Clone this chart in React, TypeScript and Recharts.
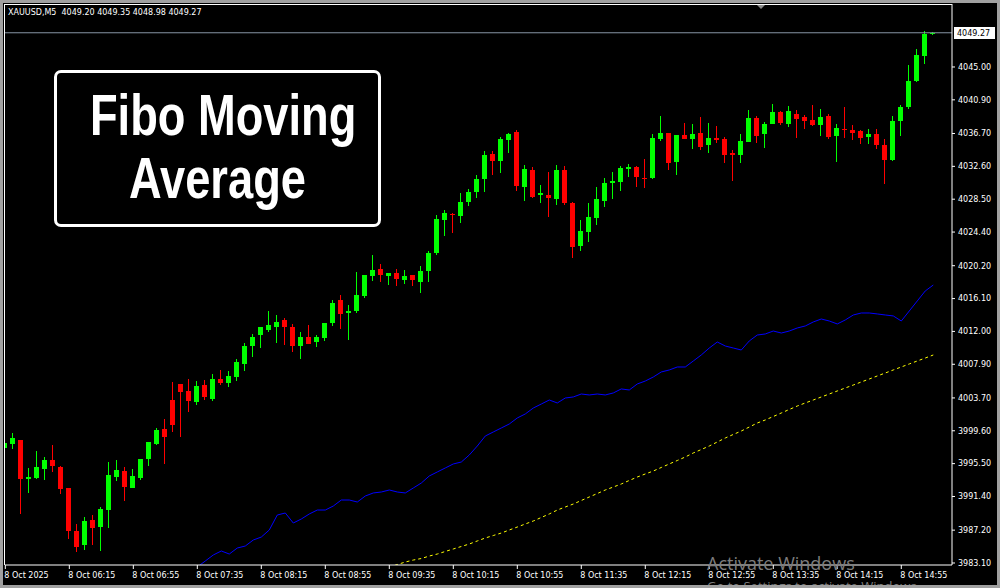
import React from 'react';
import { ComposedChart, Bar, Line, XAxis, YAxis, ReferenceLine } from 'recharts';

const opens = [
  3997.49, 3997.99, 3998.45, 3993.62, 3993.75, 3994.87, 3995.95, 3995.08, 3992.46, 3987.09,
  3985.35, 3988.47, 3987.59, 3989.71, 3993.83, 3994.58, 3992.46, 3993.71, 3996.08, 3997.95,
  3999.82, 4003.44, 4005.44, 4004.57, 4003.19, 4005.31, 4003.57, 4006.06, 4005.56, 4006.31,
  4007.94, 4010.18, 4011.55, 4012.18, 4012.55, 4013.43, 4012.55, 4010.18, 4011.30, 4010.68,
  4011.18, 4013.05, 4015.92, 4014.30, 4014.55, 4016.42, 4018.92, 4019.79, 4018.92, 4019.29,
  4018.42, 4019.04, 4018.17, 4019.54, 4021.79, 4025.91, 4026.66, 4026.41, 4028.15, 4029.40,
  4031.02, 4034.14, 4033.27, 4035.89, 4036.89, 4030.02, 4032.15, 4029.03, 4029.03, 4028.53,
  4032.15, 4028.03, 4022.66, 4024.41, 4026.16, 4028.28, 4030.52, 4030.65, 4032.27, 4032.52,
  4031.15, 4031.15, 4036.02, 4036.76, 4033.14, 4036.51, 4036.02, 4036.76, 4035.27, 4036.14,
  4036.02, 4034.27, 4034.02, 4035.64, 4038.64, 4036.64, 4037.89, 4039.38, 4037.89, 4039.14,
  4038.76, 4038.39, 4037.76, 4038.89, 4036.39, 4037.26, 4037.14, 4037.01, 4036.26, 4036.64,
  4035.27, 4033.39, 4038.26, 4040.01, 4043.25, 4046.37, 4049.20,
];
const highs = [
  3998.45, 3999.32, 3998.50, 3994.96, 3997.08, 3996.33, 3997.83, 3995.20, 3992.50, 3987.97,
  3988.84, 3989.09, 3990.09, 3995.70, 3995.95, 3995.08, 3994.83, 3996.10, 3998.25, 3999.95,
  4001.07, 4005.69, 4005.50, 4006.06, 4005.81, 4005.94, 4006.69, 4007.19, 4007.06, 4008.56,
  4010.56, 4011.68, 4012.60, 4014.55, 4014.05, 4013.68, 4012.93, 4011.93, 4012.80, 4011.55,
  4013.10, 4015.92, 4016.55, 4015.30, 4019.42, 4019.10, 4021.54, 4020.42, 4019.35, 4019.79,
  4019.67, 4019.10, 4020.17, 4022.04, 4026.53, 4027.15, 4026.78, 4029.28, 4029.78, 4031.52,
  4034.52, 4034.52, 4036.26, 4036.76, 4037.14, 4032.77, 4032.52, 4030.27, 4031.90, 4032.77,
  4032.65, 4028.10, 4025.91, 4028.03, 4030.02, 4031.15, 4031.90, 4032.65, 4032.90, 4032.65,
  4033.52, 4036.64, 4038.89, 4036.80, 4036.55, 4038.01, 4037.89, 4038.76, 4038.01, 4037.64,
  4036.26, 4034.64, 4036.64, 4039.63, 4038.89, 4038.14, 4040.38, 4039.51, 4040.13, 4039.63,
  4039.01, 4040.26, 4039.76, 4039.14, 4037.89, 4040.01, 4037.76, 4037.14, 4037.26, 4037.26,
  4036.02, 4038.89, 4040.26, 4045.25, 4047.25, 4049.49, 4049.35,
];
const lows = [
  3996.12, 3997.36, 3989.25, 3991.87, 3993.58, 3993.50, 3994.49, 3991.75, 3986.10, 3984.51,
  3984.72, 3985.38, 3984.64, 3987.47, 3993.33, 3990.84, 3992.40, 3993.46, 3995.21, 3997.83,
  3995.46, 3999.45, 3998.82, 4001.94, 4002.82, 4003.44, 4003.32, 4005.31, 4005.06, 4005.81,
  4007.06, 4008.81, 4009.93, 4011.93, 4010.56, 4010.31, 4009.43, 4008.56, 4010.40, 4010.06,
  4010.81, 4012.68, 4012.30, 4010.93, 4014.30, 4016.17, 4018.29, 4018.17, 4017.79, 4017.67,
  4017.92, 4017.67, 4016.80, 4018.17, 4021.54, 4023.91, 4024.28, 4025.53, 4027.65, 4028.65,
  4029.40, 4031.52, 4031.77, 4034.27, 4029.53, 4028.28, 4028.65, 4028.03, 4026.28, 4027.78,
  4027.78, 4021.16, 4022.04, 4023.16, 4025.28, 4027.53, 4028.53, 4029.53, 4031.27, 4030.02,
  4029.90, 4031.02, 4035.77, 4032.15, 4031.52, 4036.00, 4034.77, 4034.64, 4034.27, 4035.52,
  4033.02, 4030.77, 4033.02, 4035.60, 4035.52, 4034.89, 4037.85, 4037.76, 4037.51, 4036.14,
  4037.26, 4037.64, 4036.39, 4036.02, 4033.14, 4036.14, 4035.89, 4035.39, 4035.39, 4034.77,
  4030.40, 4033.27, 4036.39, 4039.76, 4043.13, 4045.38, 4048.98,
];
const closes = [
  3998.08, 3998.70, 3993.62, 3993.83, 3995.08, 3995.95, 3995.24, 3992.34, 3987.09, 3985.10,
  3988.34, 3987.47, 3989.84, 3994.08, 3994.71, 3992.58, 3993.96, 3996.08, 3998.20, 3999.70,
  3998.82, 4000.32, 4004.44, 4003.32, 4005.19, 4003.82, 4006.06, 4005.56, 4006.44, 4008.18,
  4010.18, 4011.30, 4012.55, 4012.80, 4013.18, 4012.55, 4010.18, 4011.30, 4010.43, 4011.30,
  4013.05, 4015.55, 4014.18, 4014.55, 4016.55, 4019.04, 4019.67, 4019.04, 4019.29, 4018.54,
  4018.92, 4018.42, 4019.54, 4021.79, 4026.03, 4026.78, 4026.53, 4028.15, 4029.40, 4031.02,
  4034.02, 4033.27, 4036.02, 4036.64, 4030.15, 4032.27, 4028.78, 4029.28, 4028.65, 4032.15,
  4028.03, 4022.54, 4024.53, 4026.28, 4028.53, 4030.52, 4030.77, 4032.40, 4032.52, 4031.27,
  4031.02, 4036.14, 4036.76, 4033.02, 4036.51, 4036.02, 4036.64, 4035.02, 4036.14, 4035.89,
  4034.02, 4034.02, 4035.77, 4038.64, 4036.39, 4037.89, 4039.38, 4038.01, 4039.51, 4038.51,
  4038.26, 4037.76, 4038.76, 4036.26, 4037.39, 4037.14, 4036.76, 4036.14, 4036.64, 4035.27,
  4033.39, 4038.26, 4040.01, 4043.25, 4046.50, 4049.12, 4049.27,
];

const blueMA = [
  null, null, null, null, null, null, null, null, null, null,
  null, null, null, null, null, null, null, null, null, null,
  null, null, null, null, 3982.60, 3983.35, 3984.10, 3984.60, 3984.22, 3984.97,
  3985.22, 3985.97, 3986.34, 3987.22, 3989.09, 3989.34, 3988.09, 3988.59, 3989.22, 3989.71,
  3989.71, 3990.21, 3990.96, 3990.96, 3990.71, 3991.46, 3991.84, 3991.96, 3992.21, 3991.96,
  3991.84, 3992.46, 3993.08, 3993.96, 3994.46, 3994.96, 3995.46, 3995.70, 3996.58, 3997.70,
  3998.95, 3999.45, 3999.95, 4000.45, 4001.20, 4001.70, 4002.44, 4002.94, 4003.44, 4003.07,
  4003.69, 4003.82, 4004.19, 4004.07, 4004.19, 4004.07, 4004.32, 4004.82, 4004.69, 4005.44,
  4005.81, 4006.31, 4006.94, 4007.19, 4007.56, 4007.56, 4008.31, 4009.06, 4009.93, 4010.68,
  4010.18, 4009.93, 4009.68, 4010.81, 4011.55, 4011.68, 4012.05, 4011.80, 4012.05, 4012.43,
  4012.68, 4013.18, 4013.55, 4013.30, 4012.93, 4013.43, 4014.05, 4014.30, 4014.30, 4014.18,
  4014.05, 4013.93, 4013.30, 4014.55, 4015.80, 4017.05, 4017.79,
];

const yellowMA = [
  null, null, null, null, null, null, null, null, null, null,
  null, null, null, null, null, null, null, null, null, null,
  null, null, null, null, null, null, null, null, null, null,
  null, null, null, null, null, null, null, null, null, null,
  null, null, null, null, null, null, null, null, 3982.60, 3982.91,
  3983.22, 3983.47, 3983.66, 3983.97, 3984.22, 3984.54, 3984.85, 3985.16, 3985.47, 3985.85,
  3986.22, 3986.53, 3986.84, 3987.22, 3987.59, 3987.97, 3988.34, 3988.78, 3989.22, 3989.71,
  3990.09, 3990.46, 3990.90, 3991.34, 3991.77, 3992.21, 3992.58, 3992.96, 3993.40, 3993.83,
  3994.21, 3994.58, 3995.02, 3995.46, 3995.89, 3996.33, 3996.83, 3997.26, 3997.70, 3998.20,
  3998.70, 3999.14, 3999.57, 4000.07, 4000.57, 4000.95, 4001.38, 4001.82, 4002.26, 4002.69,
  4003.07, 4003.44, 4003.82, 4004.19, 4004.57, 4004.94, 4005.31, 4005.69, 4006.06, 4006.44,
  4006.81, 4007.19, 4007.56, 4007.94, 4008.31, 4008.68, 4009.06,
];

const timeTicks = [0, 8, 16, 24, 32, 40, 48, 56, 64, 72, 80, 88, 96, 104, 112];
const timeLabels = [
  '8 Oct 2025', '8 Oct 06:15', '8 Oct 06:55', '8 Oct 07:35', '8 Oct 08:15',
  '8 Oct 08:55', '8 Oct 09:35', '8 Oct 10:15', '8 Oct 10:55', '8 Oct 11:35',
  '8 Oct 12:15', '8 Oct 12:55', '8 Oct 13:35', '8 Oct 14:15', '8 Oct 14:55',
];
const priceTicks = [
  4045.0, 4040.9, 4036.7, 4032.6, 4028.5, 4024.4, 4020.2, 4016.1,
  4012.0, 4007.9, 4003.7, 3999.6, 3995.5, 3991.4, 3987.2, 3983.1,
];
const lastPrice = 4049.27;
const headerText = 'XAUUSD,M5  4049.20 4049.35 4048.98 4049.27';
const titleLines = ['Fibo Moving', 'Average'];

const data = opens.map((o, i) => ({
  i,
  open: o,
  high: highs[i],
  low: lows[i],
  close: closes[i],
  range: [lows[i], highs[i]],
  blue: blueMA[i],
  yellow: yellowMA[i],
}));

const AXIS_FONT = "'DejaVu Sans', sans-serif";

function Candle(props: any) {
  const { x, y, width, height, payload } = props;
  if (!payload || x == null || y == null) return null;
  const { open, close, high, low } = payload;
  const top = Math.min(y, y + height);
  const h = Math.abs(height);
  const span = high - low;
  const pix = (v: number) => (span > 0 ? top + ((high - v) / span) * h : top);
  const cx = x + width / 2;
  const color = close >= open ? '#00ff00' : '#ff0000';
  const wTop = Math.round(pix(high));
  const wBot = Math.round(pix(low));
  const bTop = Math.round(pix(Math.max(open, close)));
  const bBot = Math.round(pix(Math.min(open, close)));
  return (
    <g>
      <rect x={Math.floor(cx)} y={wTop} width={1} height={Math.max(1, wBot - wTop)} fill={color} />
      <rect x={Math.round(cx - 2.5)} y={bTop} width={5} height={Math.max(1, bBot - bTop)} fill={color} />
    </g>
  );
}

function XTick(props: any) {
  const { x, y, payload } = props;
  const idx = timeTicks.indexOf(payload.value);
  return (
    <text x={x - 1} y={y + 7} fill="#ffffff" fontSize={8} fontFamily={AXIS_FONT} textAnchor="start">
      {idx >= 0 ? timeLabels[idx] : ''}
    </text>
  );
}

function PriceLabel(props: any) {
  const { viewBox } = props;
  if (!viewBox) return null;
  const right = viewBox.x + viewBox.width;
  const yy = Math.round(viewBox.y);
  return (
    <g>
      <rect x={right + 2} y={yy - 6} width={41} height={12} fill="#ffffff" />
      <text x={right + 5} y={yy + 3} fill="#000000" fontSize={8} fontFamily={AXIS_FONT}>
        {lastPrice.toFixed(2)}
      </text>
    </g>
  );
}

export default function App() {
  return (
    <div
      style={{
        position: 'absolute',
        left: 0,
        top: 0,
        width: 1000,
        height: 588,
        background: '#000000',
        overflow: 'hidden',
      }}
    >
      <div style={{ position: 'absolute', left: 0, top: 0 }}>
        <ComposedChart width={1000} height={588} data={data} margin={{ top: 4, right: 0, left: 5, bottom: 0 }}>
          <XAxis
            dataKey="i"
            type="number"
            domain={[-0.04, 118.34]}
            allowDataOverflow
            ticks={timeTicks}
            interval={0}
            height={23}
            tickSize={4}
            tickMargin={2}
            axisLine={{ stroke: '#ffffff' }}
            tickLine={{ stroke: '#ffffff' }}
            tick={<XTick />}
          />
          <YAxis
            orientation="right"
            width={48}
            domain={[3982.85, 4052.86]}
            allowDataOverflow
            ticks={priceTicks}
            interval={0}
            tickSize={3}
            tickMargin={3}
            axisLine={{ stroke: '#ffffff' }}
            tickLine={{ stroke: '#ffffff' }}
            tick={{ fill: '#ffffff', fontSize: 8, fontFamily: AXIS_FONT }}
            tickFormatter={(v: number) => v.toFixed(2)}
          />
          <ReferenceLine y={lastPrice} stroke="#8795a5" strokeWidth={1} label={<PriceLabel />} />
          <Bar dataKey="range" shape={<Candle />} barSize={5} isAnimationActive={false} />
          <Line
            dataKey="blue"
            type="linear"
            stroke="#0000ff"
            strokeWidth={1}
            dot={false}
            activeDot={false}
            connectNulls={false}
            isAnimationActive={false}
          />
          <Line
            dataKey="yellow"
            type="linear"
            stroke="#ffff00"
            strokeWidth={1}
            strokeDasharray="3 3"
            dot={false}
            activeDot={false}
            connectNulls={false}
            isAnimationActive={false}
          />
        </ComposedChart>
      </div>

      {/* plot frame: left and top edges */}
      <div
        style={{
          position: 'absolute',
          left: 4,
          top: 4,
          width: 948,
          height: 561,
          borderLeft: '1px solid #ffffff',
          borderTop: '1px solid #ffffff',
          boxSizing: 'border-box',
          pointerEvents: 'none',
        }}
      />

      {/* header */}
      <div
        style={{
          position: 'absolute',
          left: 8,
          top: 8,
          color: '#ffffff',
          fontFamily: AXIS_FONT,
          fontSize: 8,
          lineHeight: '10px',
          whiteSpace: 'pre',
        }}
      >
        {headerText}
      </div>

      {/* shift marker */}
      <div
        style={{
          position: 'absolute',
          left: 757,
          top: 5,
          width: 0,
          height: 0,
          borderLeft: '4.5px solid transparent',
          borderRight: '4.5px solid transparent',
          borderTop: '4px solid #8a8a8a',
        }}
      />

      {/* title box */}
      <div
        style={{
          position: 'absolute',
          left: 54,
          top: 70,
          width: 327,
          height: 157,
          border: '3px solid #ffffff',
          borderRadius: 7,
          background: '#000000',
          boxSizing: 'border-box',
        }}
      />
      <div
        style={{
          position: 'absolute',
          left: 54,
          top: 83,
          width: 327,
          textAlign: 'center',
          color: '#ffffff',
          fontFamily: "'Liberation Sans', Arial, sans-serif",
          fontWeight: 'bold',
          fontSize: 58,
          lineHeight: '63px',
          whiteSpace: 'nowrap',
          transform: 'scaleX(0.78)',
          transformOrigin: '163.5px 0',
        }}
      >
        {titleLines.map((t) => (
          <div key={t}>{t}</div>
        ))}
      </div>

      {/* watermark */}
      <div
        style={{
          position: 'absolute',
          left: 707,
          top: 552,
          color: '#7d7d7d',
          fontFamily: "'Open Sans', sans-serif",
          fontSize: 18,
          lineHeight: '22px',
          whiteSpace: 'nowrap',
        }}
      >
        Activate Windows
      </div>
      <div
        style={{
          position: 'absolute',
          left: 707,
          top: 578,
          color: '#7d7d7d',
          fontFamily: "'Open Sans', sans-serif",
          fontSize: 13,
          lineHeight: '16px',
          whiteSpace: 'nowrap',
        }}
      >
        Go to Settings to activate Windows.
      </div>

      {/* window border */}
      <div
        style={{
          position: 'absolute',
          left: 0,
          top: 0,
          width: 1000,
          height: 588,
          border: '3px solid #a0a0a0',
          boxSizing: 'border-box',
          pointerEvents: 'none',
        }}
      />
    </div>
  );
}
